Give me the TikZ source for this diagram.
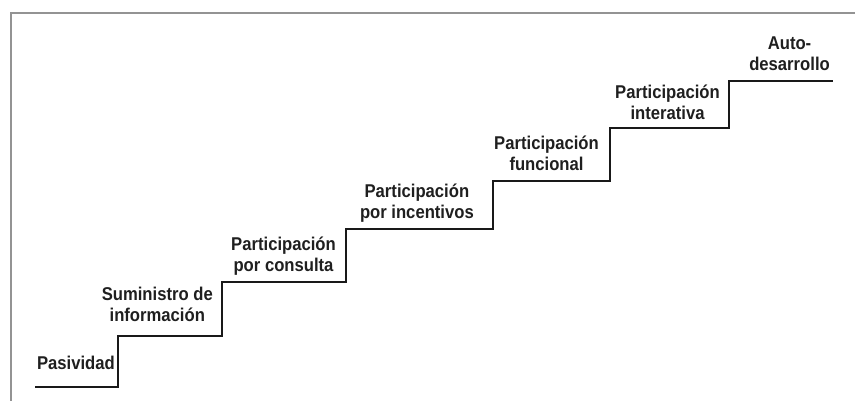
\documentclass[tikz,border=0pt]{standalone}
\usepackage{fontspec}
\setmainfont{Liberation Sans}[FakeStretch=0.9]
\begin{document}
\begin{tikzpicture}[x=1pt, y=-1pt,
  frame/.style={draw=gray!85, line width=1.6pt},
  stair/.style={draw=black!90, line width=2.5pt},
  steplabel/.style={anchor=south east, inner sep=0pt, align=center, text=black!88,
    font=\fontsize{18.5}{21.5}\selectfont\bfseries}
]
\useasboundingbox (0,0) rectangle (855,401);
% frame
\draw[frame] (855,13) -- (11,13) -- (11,401);

% start of every tread
\coordinate (t0) at (35,387);
\coordinate (t1) at (118,336);
\coordinate (t2) at (222,282);
\coordinate (t3) at (346,229);
\coordinate (t4) at (493,181);
\coordinate (t5) at (610,128);
\coordinate (t6) at (729,81);
\coordinate (tend) at (833,81);

\draw[stair] (t0) -| (t1) -| (t2) -| (t3) -| (t4) -| (t5) -| (t6) -- (tend);

% labels
\node[steplabel] (pasividad) at (115,369.5) {Pasividad};
\node[steplabel] (suministro) at (213,322) {Suministro de\\información};
\node[steplabel] (consulta) at (336,276) {Participación\\por consulta};
\node[steplabel] (incentivos) at (474,223) {Participación\\por incentivos};
\node[steplabel] (funcional) at (599,171) {Participación\\funcional};
\node[steplabel] (interativa) at (720,120) {Participación\\interativa};
\node[steplabel] (autodes) at (830,71) {Auto-\\desarrollo};
\end{tikzpicture}
\end{document}
